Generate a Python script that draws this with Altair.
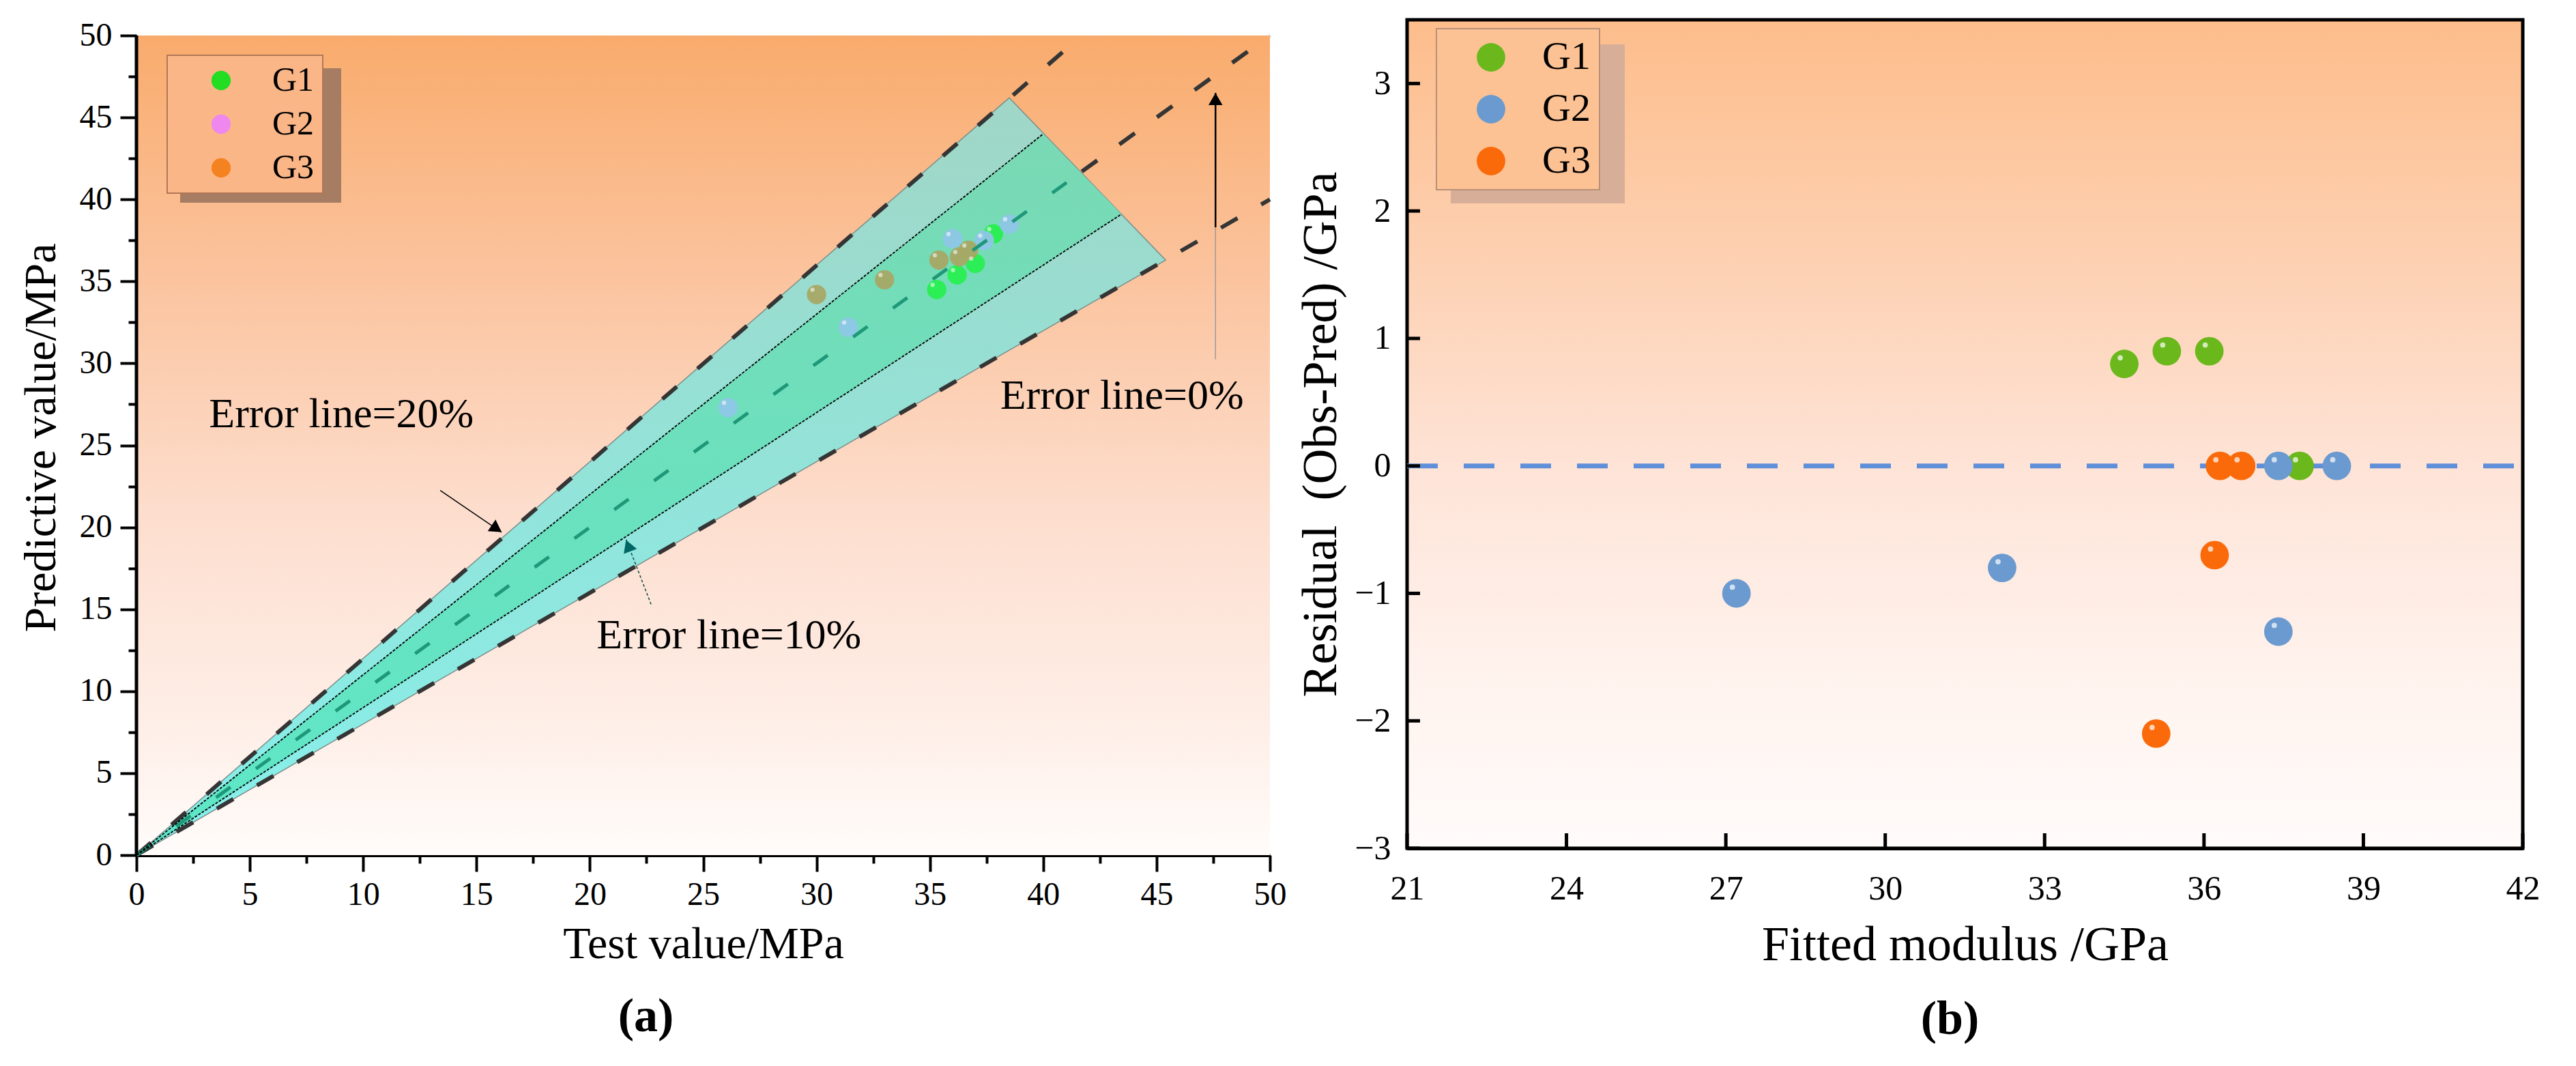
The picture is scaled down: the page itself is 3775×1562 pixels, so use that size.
import altair as alt
import pandas as pd

FONT = "Liberation Serif"

# ---------------- panel (a) data ----------------
groups = ["G1", "G2", "G3"]
a_group = ["G1", "G1", "G1", "G1", "G2", "G2", "G2", "G2", "G2", "G3", "G3", "G3", "G3", "G3"]
a_test = [35.3, 36.2, 37.0, 37.8, 26.1, 31.4, 36.0, 37.4, 38.5, 30.0, 33.0, 35.4, 36.3, 36.7]
a_pred = [34.5, 35.4, 36.1, 37.9, 27.3, 32.2, 37.6, 37.5, 38.5, 34.2, 35.1, 36.3, 36.5, 36.9]

a_limits_x = [0, 50]
a_limits_y = [0, 50]

band_x = [0, 38.5, 45.4]
band_lo = [0, 30.8, 36.3]
band_hi = [0, 46.2, 36.3]
inner_x = [0, 40.0, 43.45]
inner_lo = [0, 36.0, 39.1]
inner_hi = [0, 44.0, 39.1]

outer_id = ["+20%", "+20%", "-20%", "-20%", "0% ext", "0% ext"]
outer_x = [0, 41.7, 0, 50, 41.7, 50]
outer_y = [0, 50, 0, 40, 41.7, 50]
zero_x = [0, 41.7]
zero_y = [0, 41.7]
ten_id = ["+10%", "+10%", "-10%", "-10%"]
ten_x = [0, 40.0, 0, 43.45]
ten_y = [0, 44.0, 0, 39.1]

ann_text = ["Error line=20%", "Error line=10%", "Error line=0%"]
ann_x = [3.2, 20.3, 38.1]
ann_y = [26.9, 13.4, 28.0]

arrow20_x = [13.4, 16.1]
arrow20_y = [22.25, 19.7]
arrow10_x = [22.7, 21.6]
arrow10_y = [15.3, 19.25]
arrow0_low_x = [47.6, 47.6]
arrow0_low_y = [30.25, 38.3]
arrow0_top_x = [47.6, 47.6]
arrow0_top_y = [38.3, 46.5]

a_ticks = [0, 2.5, 5, 7.5, 10, 12.5, 15, 17.5, 20, 22.5, 25, 27.5, 30,
           32.5, 35, 37.5, 40, 42.5, 45, 47.5, 50]

a_legend_colors = ["#22DD22", "#EE88EE", "#F58220"]
a_point_colors = ["#28EE50", "#8EC6E6", "#A6A865"]

# ---------------- panel (b) data ----------------
b_group = ["G1", "G1", "G1", "G1", "G2", "G2", "G2", "G2", "G2", "G3", "G3", "G3", "G3"]
b_fit = [34.5, 35.3, 36.1, 37.8, 27.2, 32.2, 37.4, 37.4, 38.5, 36.3, 36.7, 36.2, 35.1]
b_res = [0.8, 0.9, 0.9, 0.0, -1.0, -0.8, 0.0, -1.3, 0.0, 0.0, 0.0, -0.7, -2.1]
b_xticks = [21, 24, 27, 30, 33, 36, 39, 42]
b_yticks = [-3, -2, -1, 0, 1, 2, 3]
b_colors = ["#6BB81C", "#6A9ACF", "#FA6A0A"]

# ---------------- sizes ----------------
WA, HA = 1661, 1224
WB, HB = 1635, 1214


def grad(stops):
    return {"gradient": "linear", "x1": 0, "x2": 0, "y1": 0, "y2": 1,
            "stops": [{"offset": o, "color": c} for o, c in stops]}


# ================= panel (a) =================
xs_a = alt.Scale(domain=[0, 50], nice=False, zero=False)
ys_a = alt.Scale(domain=[0, 50.96], nice=False, zero=False)
major_expr = "datum.value % 5 == 0"
ax_xa = alt.Axis(title="Test value/MPa", values=a_ticks,
                 labelExpr=f"{major_expr} ? datum.label : ''",
                 tickSize={"condition": {"test": major_expr, "value": 24}, "value": 12},
                 tickWidth=4, tickColor="black", domainWidth=5, domainColor="black",
                 labelFontSize=48, labelPadding=10, labelFlush=False, labelOverlap=False,
                 titleFontSize=66, titlePadding=16, grid=False)
ax_ya = alt.Axis(title="Predictive value/MPa", values=a_ticks,
                 labelExpr=f"{major_expr} ? datum.label : ''",
                 tickSize={"condition": {"test": major_expr, "value": 24}, "value": 12},
                 tickWidth=4, tickColor="black", domain=False,
                 labelFontSize=48, labelPadding=12, labelFlush=False, labelOverlap=False,
                 titleFontSize=66, titlePadding=22, grid=False)


def XA(f):
    return alt.X(f"{f}:Q", scale=xs_a, axis=ax_xa)


def YA(f):
    return alt.Y(f"{f}:Q", scale=ys_a, axis=ax_ya)


df_a = pd.DataFrame({"group": a_group, "test": a_test, "pred": a_pred})

bg_a = alt.Chart(pd.DataFrame({"x": [a_limits_x[0]], "x2": [a_limits_x[1]],
                               "y": [a_limits_y[0]], "y2": [a_limits_y[1]]})).mark_rect(
    fill=grad([(0, "#F9AB6C"), (0.3, "#FBC49F"), (0.6, "#FDDFD0"), (0.85, "#FEEFE8"), (1, "#FFFCFA")])
).encode(x=XA("x"), x2="x2", y=YA("y"), y2="y2")

yaxis_line = alt.Chart(pd.DataFrame({"y": [a_limits_y[0]], "y2": [a_limits_y[1]]})).mark_rule(
    color="black", strokeWidth=5).encode(x=alt.value(0), y=YA("y"), y2="y2")

band = alt.Chart(pd.DataFrame({"x": band_x, "lo": band_lo, "hi": band_hi})).mark_area(
    fill=grad([(0, "#A0D6C6"), (1, "#86F0EC")]), stroke="#7C8E8A", strokeWidth=1.5
).encode(x=XA("x"), y=YA("lo"), y2="hi")

inner = alt.Chart(pd.DataFrame({"x": inner_x, "lo": inner_lo, "hi": inner_hi})).mark_area(
    fill=grad([(0, "#7AD9B4"), (1, "#5CE8C8")])
).encode(x=XA("x"), y=YA("lo"), y2="hi")

# invisible layer that carries the legend (legend colours of the groups)
leg_a = alt.Chart(df_a).mark_circle(size=800, opacity=0.001).encode(
    x=XA("test"), y=YA("pred"),
    color=alt.Color("group:N", scale=alt.Scale(domain=groups, range=a_legend_colors),
                    legend=alt.Legend(orient="none", legendX=45, legendY=52, title=None,
                                      fillColor="#FBB687", strokeColor="#B07858",
                                      padding=12, symbolOffset=42, labelOffset=50, rowPadding=14,
                                      labelFontSize=50, labelFont=FONT, symbolSize=800,
                                      symbolType="circle", symbolOpacity=1, symbolStrokeWidth=0)))

# visible points (colours as seen through the band)
pts_a_layers = [
    alt.Chart(df_a).transform_filter(alt.datum.group == g).mark_circle(
        size=800, opacity=0.95, color=c).encode(x=XA("test"), y=YA("pred"))
    for g, c in zip(groups, a_point_colors)
]

hl_a = alt.Chart(df_a).mark_circle(size=40, color="white", opacity=0.55, xOffset=-6, yOffset=-7).encode(
    x=XA("test"), y=YA("pred"))

shadow_a = alt.Chart(pd.DataFrame({"k": [0]})).mark_rect(color="#A67C62").encode(
    x=alt.value(64), x2=alt.value(300), y=alt.value(71), y2=alt.value(268))

outer_lines = alt.Chart(pd.DataFrame({"id": outer_id, "x": outer_x, "y": outer_y})).mark_line(
    color="#353535", strokeWidth=6, strokeDash=[28, 40]).encode(x=XA("x"), y=YA("y"), detail="id:N")

zero_line = alt.Chart(pd.DataFrame({"x": zero_x, "y": zero_y})).mark_line(
    color="#1E9878", strokeWidth=5, strokeDash=[26, 46]).encode(x=XA("x"), y=YA("y"))

ten_lines = alt.Chart(pd.DataFrame({"id": ten_id, "x": ten_x, "y": ten_y})).mark_line(
    color="black", strokeWidth=1.8, strokeDash=[4, 2]).encode(x=XA("x"), y=YA("y"), detail="id:N")

ann = alt.Chart(pd.DataFrame({"t": ann_text, "x": ann_x, "y": ann_y})).mark_text(
    align="left", baseline="middle", fontSize=62, font=FONT, color="black").encode(
    x=XA("x"), y=YA("y"), text="t:N")

ar20 = alt.Chart(pd.DataFrame({"x": arrow20_x, "y": arrow20_y})).mark_line(
    color="black", strokeWidth=1.5).encode(x=XA("x"), y=YA("y"))
ar20h = alt.Chart(pd.DataFrame({"x": arrow20_x[1:], "y": arrow20_y[1:]})).mark_point(
    shape="triangle-right", filled=True, color="black", size=420, angle=34, opacity=1,
    xOffset=-7, yOffset=-5).encode(x=XA("x"), y=YA("y"))

ar10 = alt.Chart(pd.DataFrame({"x": arrow10_x, "y": arrow10_y})).mark_line(
    color="#104848", strokeWidth=1.5, strokeDash=[4, 3]).encode(x=XA("x"), y=YA("y"))
ar10h = alt.Chart(pd.DataFrame({"x": arrow10_x[1:], "y": arrow10_y[1:]})).mark_point(
    shape="triangle-right", filled=True, color="#006666", size=420, angle=249, opacity=1,
    xOffset=3, yOffset=9).encode(x=XA("x"), y=YA("y"))

ar0l = alt.Chart(pd.DataFrame({"x": arrow0_low_x, "y": arrow0_low_y})).mark_line(
    color="#9A9A9A", strokeWidth=1.5).encode(x=XA("x"), y=YA("y"))
ar0t = alt.Chart(pd.DataFrame({"x": arrow0_top_x, "y": arrow0_top_y})).mark_line(
    color="black", strokeWidth=2.5).encode(x=XA("x"), y=YA("y"))
ar0h = alt.Chart(pd.DataFrame({"x": arrow0_top_x[1:], "y": arrow0_top_y[1:]})).mark_point(
    shape="triangle-up", filled=True, color="black", size=420, opacity=1, yOffset=9).encode(
    x=XA("x"), y=YA("y"))

panel_a = alt.layer(
    bg_a, shadow_a, band, inner, leg_a, *pts_a_layers, hl_a, outer_lines, zero_line, ten_lines,
    yaxis_line, ann, ar20, ar20h, ar10, ar10h, ar0l, ar0t, ar0h
).properties(
    width=WA, height=HA,
    title=alt.TitleParams("(a)", orient="bottom", anchor="middle", frame="group", fontSize=70,
                          font=FONT, fontWeight="bold", dx=-84, offset=40, color="black"))

# ================= panel (b) =================
xs_b = alt.Scale(domain=[21, 42], nice=False, zero=False)
ys_b = alt.Scale(domain=[-3, 3.5], nice=False, zero=False)
ax_xb = alt.Axis(title="Fitted modulus /GPa", values=b_xticks, ticks=False, tickSize=0,
                 domainWidth=5, domainColor="black", labelFontSize=50, labelPadding=34,
                 labelFlush=False, labelOverlap=False, titleFontSize=72, titlePadding=22, grid=False)
ax_yb = alt.Axis(title="Residual \u00a0(Obs-Pred) /GPa", values=b_yticks, ticks=False, tickSize=0,
                 domainWidth=5, domainColor="black", labelFontSize=50, labelPadding=24,
                 labelFlush=False, labelOverlap=False, titleFontSize=72, titlePadding=12, grid=False)


def XB(f):
    return alt.X(f"{f}:Q", scale=xs_b, axis=ax_xb)


def YB(f):
    return alt.Y(f"{f}:Q", scale=ys_b, axis=ax_yb)


df_b = pd.DataFrame({"group": b_group, "fit": b_fit, "res": b_res})

bg_b = alt.Chart(pd.DataFrame({"k": [0]})).mark_rect(
    fill=grad([(0, "#FDBD8B"), (0.3, "#FDD1B3"), (0.55, "#FEE4D8"), (0.8, "#FFF3EE"), (1, "#FFFBFA")]),
    stroke="black", strokeWidth=5
).encode(x=alt.value(0), x2=alt.value(WB), y=alt.value(0), y2=alt.value(HB))

shadow_b = alt.Chart(pd.DataFrame({"k": [0]})).mark_rect(color="#D7AE98").encode(
    x=alt.value(64), x2=alt.value(319), y=alt.value(36), y2=alt.value(269))

zero_b = alt.Chart(pd.DataFrame({"x": [b_xticks[0], b_xticks[-1]], "y": [0, 0]})).mark_line(
    color="#5F8FD8", strokeWidth=7, strokeDash=[45, 38]).encode(x=XB("x"), y=YB("y"))

xt_b = alt.Chart(pd.DataFrame({"t": b_xticks})).mark_rule(color="black", strokeWidth=5).encode(
    x=XB("t"), y=alt.value(HB), y2=alt.value(HB - 22))
yt_b = alt.Chart(pd.DataFrame({"t": b_yticks})).mark_rule(color="black", strokeWidth=5).encode(
    y=YB("t"), x=alt.value(0), x2=alt.value(19))

pts_b = alt.Chart(df_b).mark_circle(size=1750, opacity=1).encode(
    x=XB("fit"), y=YB("res"),
    color=alt.Color("group:N", scale=alt.Scale(domain=groups, range=b_colors),
                    legend=alt.Legend(orient="none", legendX=43, legendY=13, title=None,
                                      fillColor="#FDC294", strokeColor="#B89078",
                                      padding=13, symbolOffset=38, labelOffset=46, rowPadding=18,
                                      labelFontSize=58, labelFont=FONT, symbolSize=1750,
                                      symbolType="circle", symbolOpacity=1, symbolStrokeWidth=0)))
hl_b = alt.Chart(df_b).mark_circle(size=60, color="white", opacity=0.7, xOffset=-6, yOffset=-9).encode(
    x=XB("fit"), y=YB("res"))

panel_b = alt.layer(bg_b, shadow_b, zero_b, xt_b, yt_b, pts_b, hl_b).properties(
    width=WB, height=HB,
    title=alt.TitleParams("(b)", orient="bottom", anchor="middle", frame="group", fontSize=70,
                          font=FONT, fontWeight="bold", dx=-22, offset=40, color="black"))

chart = alt.hconcat(panel_a, panel_b, spacing=14).resolve_scale(
    x="independent", y="independent", color="independent"
).resolve_legend(color="independent").properties(
    padding={"left": 19, "top": 18, "right": 0, "bottom": 0}
).configure_view(strokeWidth=0).configure_axis(
    labelFont=FONT, titleFont=FONT, titleFontWeight="normal", labelColor="black", titleColor="black"
).configure_legend(labelFont=FONT, strokeWidth=2).configure_text(font=FONT).configure_title(font=FONT)

chart.save("out.html", embed_options={"renderer": "svg", "actions": False})
